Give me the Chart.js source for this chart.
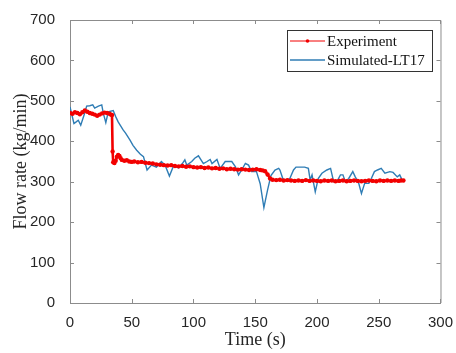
<!DOCTYPE html>
<html>
<head>
<meta charset="utf-8">
<script src="https://cdn.jsdelivr.net/npm/chart.js@4"></script>
<style>
  body { margin: 0; background: #fff; }
</style>
</head>
<body>
<canvas id="flow" width="456" height="353"></canvas>
<script>
// experiment (red, with dots)
var expTime = [0, 2, 4, 6, 8, 10, 12, 14, 16, 18, 20, 22, 24, 26, 28, 30, 32, 33, 34, 34.5, 35, 36, 37, 38, 39, 40, 41, 42, 44, 46, 48, 50, 52, 55, 58, 61, 64, 67, 70, 73, 76, 79, 82, 85, 88, 91, 94, 97, 100, 103, 106, 109, 112, 115, 118, 121, 124, 127, 130, 133, 136, 139, 142, 145, 148, 151, 154, 156, 158, 160, 162, 164, 167, 170, 173, 176, 179, 182, 185, 188, 191, 194, 197, 200, 203, 206, 209, 212, 215, 218, 221, 224, 227, 230, 233, 236, 239, 242, 245, 248, 251, 254, 257, 260, 263, 266, 268, 270];
var expFlow = [470, 468, 472, 470, 467, 472, 476, 473, 470, 468, 466, 463, 466, 469, 471, 470, 468, 466, 465, 375, 348, 346, 352, 362, 366, 364, 358, 354, 352, 353, 350, 349, 350, 348, 349, 347, 346, 345, 343, 342, 341, 340, 341, 339, 338, 339, 337, 338, 336, 335, 336, 334, 335, 333, 334, 332, 333, 331, 332, 331, 330, 331, 330, 329, 330, 331, 329, 328, 326, 318, 308, 305, 304, 305, 303, 304, 303, 302, 303, 302, 304, 302, 303, 302, 301, 303, 302, 303, 301, 302, 303, 301, 302, 303, 302, 301, 302, 303, 302, 301, 303, 302, 303, 302, 303, 302, 303, 303];

// simulated LT17 (blue)
var simTime = [0, 3.2, 5, 6.7, 8.7, 11.4, 13.5, 16, 18.4, 20, 23, 25.7, 27, 29, 31, 35, 37, 39, 41, 43, 45, 48.6, 51, 54, 57, 59.5, 62.4, 66, 70, 74, 77, 80.5, 83.8, 88, 91, 93, 94.6, 98.6, 101, 104, 108, 111, 113.5, 115, 119, 121.6, 125.7, 131, 134, 136.5, 139, 142, 144.6, 147, 151, 154, 157, 160, 162.7, 166, 169, 170, 172.5, 176, 178, 181, 183, 190, 193, 194.5, 196, 198.6, 201, 204, 208, 211, 213.5, 216, 219, 221, 223, 225.7, 229, 231, 233.8, 236, 238.6, 242, 244, 246.5, 249, 252, 255, 259, 261.6, 265, 267, 269];
var simFlow = [485, 444, 448, 452, 440, 465, 487, 488, 490, 482, 487, 490, 469, 446, 473, 476, 461, 448, 438, 428, 420, 403, 390, 378, 368, 362, 329, 341, 336, 350, 341, 314, 339, 334, 345, 354, 341, 350, 358, 364, 345, 350, 355, 345, 355, 333, 350, 350, 337, 317, 329, 345, 341, 325, 325, 295, 236, 280, 315, 329, 333, 329, 306, 304, 308, 329, 336, 336, 333, 304, 317, 275, 308, 321, 329, 333, 300, 300, 317, 317, 300, 308, 325, 312, 296, 271, 296, 296, 308, 325, 329, 333, 321, 325, 323, 312, 317, 304];

var xTicks = [0, 50, 100, 150, 200, 250, 300];
var yTicks = [0, 100, 200, 300, 400, 500, 600, 700];

var axisGrey = "#8c8c8c";
var textCol = "#262626";

function pts(xs, ys) {
    return xs.map(function (x, i) { return { x: x, y: ys[i] }; });
}

// MATLAB style: inward ticks, full box, boxed legend
var matlabFrame = {
    id: "matlabFrame",
    afterDatasetsDraw: function (chart) {
        var ctx = chart.ctx;
        var a = chart.chartArea;
        var sx = chart.scales.x, sy = chart.scales.y;
        ctx.save();
        ctx.strokeStyle = axisGrey;
        ctx.lineWidth = 1;
        ctx.beginPath();
        ctx.moveTo(a.left, a.top + 0.5);
        ctx.lineTo(a.right + 0.5, a.top + 0.5);
        ctx.lineTo(a.right + 0.5, a.bottom);
        xTicks.forEach(function (v) {
            var px = Math.round(sx.getPixelForValue(v)) + 0.5;
            ctx.moveTo(px, a.bottom);
            ctx.lineTo(px, a.bottom - 4);
            ctx.moveTo(px, a.top);
            ctx.lineTo(px, a.top + 4);
        });
        yTicks.forEach(function (v) {
            var py = Math.round(sy.getPixelForValue(v)) + 0.5;
            ctx.moveTo(a.left, py);
            ctx.lineTo(a.left + 4, py);
            ctx.moveTo(a.right, py);
            ctx.lineTo(a.right - 4, py);
        });
        ctx.stroke();

        // legend
        var lx = 287, ly = 30, lw = 145, lh = 41;
        ctx.fillStyle = "#fff";
        ctx.fillRect(lx, ly, lw, lh);
        ctx.strokeStyle = "#333";
        ctx.strokeRect(lx + 0.5, ly + 0.5, lw, lh);
        ctx.font = "15px 'Liberation Serif'";
        ctx.textBaseline = "middle";
        chart.data.datasets.forEach(function (ds, i) {
            var cy = ly + 11 + i * 19;
            ctx.strokeStyle = ds.borderColor;
            ctx.lineWidth = i === 0 ? 1 : 1.5;
            ctx.beginPath();
            ctx.moveTo(lx + 3, cy);
            ctx.lineTo(lx + 38, cy);
            ctx.stroke();
            if (i === 0) {
                ctx.fillStyle = ds.borderColor;
                ctx.beginPath();
                ctx.arc(lx + 20.5, cy, 1.8, 0, Math.PI * 2);
                ctx.fill();
            }
            ctx.fillStyle = "#111";
            ctx.fillText(ds.label, lx + 40, cy + 1);
        });
        ctx.restore();
    }
};

new Chart(document.getElementById("flow"), {
    type: "line",
    data: {
        datasets: [
            {
                label: "Experiment",
                data: pts(expTime, expFlow),
                borderColor: "#f20000",
                backgroundColor: "#f20000",
                borderWidth: 2.6,
                pointRadius: 2.2,
                pointBorderWidth: 0,
                fill: false,
            },
            {
                label: "Simulated-LT17",
                data: pts(simTime, simFlow),
                borderColor: "#2f7db5",
                borderWidth: 1.4,
                pointRadius: 0,
                fill: false,
            },
        ],
    },
    options: {
        responsive: false,
        animation: false,
        layout: { padding: { top: 20, right: 15, left: 0, bottom: 0 } },
        plugins: {
            legend: { display: false },
            tooltip: { enabled: false },
        },
        scales: {
            x: {
                type: "linear",
                min: 0,
                max: 300,
                afterFit: function (s) { s.height = 50; },
                afterBuildTicks: function (s) { s.ticks = xTicks.map(function (v) { return { value: v }; }); },
                grid: { display: false },
                border: { display: true, color: axisGrey },
                ticks: {
                    padding: 3,
                    color: textCol,
                    font: { family: "'Liberation Sans'", size: 15 },
                },
                title: {
                    display: true,
                    text: "Time (s)",
                    color: textCol,
                    font: { family: "'Liberation Serif'", size: 18 },
                    padding: { top: 0, bottom: 2 },
                },
            },
            y: {
                min: 0,
                max: 700,
                afterFit: function (s) { s.width = 70; },
                afterBuildTicks: function (s) { s.ticks = yTicks.map(function (v) { return { value: v }; }); },
                grid: { display: false },
                border: { display: true, color: axisGrey },
                ticks: {
                    padding: 7,
                    color: textCol,
                    font: { family: "'Liberation Sans'", size: 15 },
                },
                title: {
                    display: true,
                    text: "Flow rate (kg/min)",
                    color: textCol,
                    font: { family: "'Liberation Serif'", size: 18 },
                    padding: { top: 10, bottom: 0 },
                },
            },
        },
    },
    plugins: [matlabFrame],
});
</script>
</body>
</html>
